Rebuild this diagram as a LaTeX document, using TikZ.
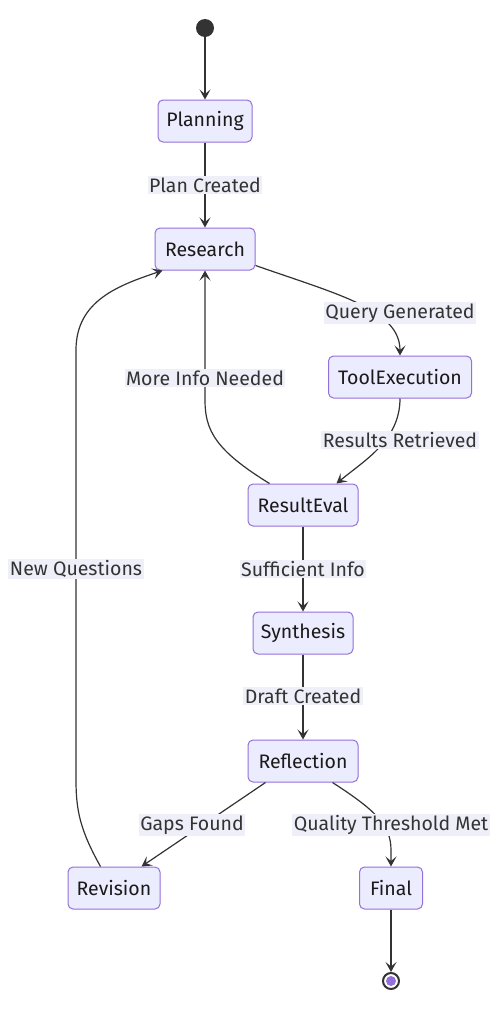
\documentclass[tikz,border=0pt]{standalone}
\usepackage{fontspec}
\setmainfont{Fira Sans}
\usetikzlibrary{arrows.meta,calc}
\definecolor{nodefill}{HTML}{ECECFF}
\definecolor{nodeborder}{HTML}{9370DB}
\definecolor{edgecol}{HTML}{333333}
\definecolor{labelbg}{HTML}{EFEFF9}
\definecolor{txt}{HTML}{1A1A1A}
\tikzset{
  state/.style={draw=nodeborder, fill=nodefill, rounded corners=5pt, line width=1pt,
    minimum height=42pt, inner sep=0pt, text=txt, font=\fontsize{19.5}{22}\selectfont},
  edge/.style={draw=edgecol, line width=1.2pt, -{Stealth[length=10pt,width=11pt,inset=4.5pt]}},
  elabel/.style={fill=labelbg, text=edgecol, inner sep=1.5pt, font=\fontsize{19.5}{22}\selectfont}
}
\begin{document}
\begin{tikzpicture}[x=1pt,y=-1pt]
\useasboundingbox (0,0) rectangle (500,1010);
\fill[white] (0,0) rectangle (500,1010);
% nodes
\node[circle, fill=edgecol, minimum size=18pt, inner sep=0pt] (start) at (205,28) {};
\node[state, minimum width=94pt] (P) at (205,121) {Planning};
\node[state, minimum width=100pt] (R) at (205,249) {Research};
\node[state, minimum width=143pt] (T) at (400,377) {ToolExecution};
\node[state, minimum width=110pt] (E) at (303,505) {ResultEval};
\node[state, minimum width=100pt] (S) at (303,633) {Synthesis};
\node[state, minimum width=110pt] (F) at (303,761) {Reflection};
\node[state, minimum width=92pt] (V) at (114,888) {Revision};
\node[state, minimum width=63pt] (N) at (391,888) {Final};
\node[circle, draw=edgecol, line width=2pt, fill=white, minimum size=16pt, inner sep=0pt] (end) at (391,981) {};
\fill[nodeborder] (end.center) circle (5pt);
% edges
\draw[edge] (start) -- (P);
\draw[edge] (P) -- (R);
\draw[edge] ($(R.south east)+(0,-5)$) .. controls (340,295) and (400,310) .. (T.north);
\draw[edge] (T.south) .. controls (400,440) and (365,460) .. ($(E.north east)+(-22,0)$);
\draw[edge] ($(E.north west)+(22,0)$) .. controls (215,450) and (205,430) .. (205,400) -- (R.south);
\draw[edge] (E) -- (S);
\draw[edge] (S) -- (F);
\draw[edge] ($(F.south west)+(18,0)$) -- ($(V.north east)+(-19,0)$);
\draw[edge] ($(F.south east)+(-26,0)$) .. controls (375,810) and (391,825) .. (391,850) -- (N.north);
\draw[edge] ($(V.north west)+(33,0)$) .. controls (80,830) and (76,810) .. (76,780) -- (76,350) .. controls (76,300) and (120,285) .. ($(R.south west)+(8,0)$);
\draw[edge] (N) -- (end);
% labels
\node[elabel] (l1) at (205,185) {Plan Created};
\node[elabel] (l2) at (400,313) {Query Generated};
\node[elabel] (l3) at (205,378) {More Info Needed};
\node[elabel] (l4) at (400,440) {Results Retrieved};
\node[elabel] (l5) at (303,569) {Sufficient Info};
\node[elabel] (l6) at (303,696) {Draft Created};
\node[elabel] (l7) at (192,825) {Gaps Found};
\node[elabel] (l8) at (391,825) {Quality Threshold Met};
\node[elabel] (l9) at (76,569) {New Questions};
\end{tikzpicture}
\end{document}
